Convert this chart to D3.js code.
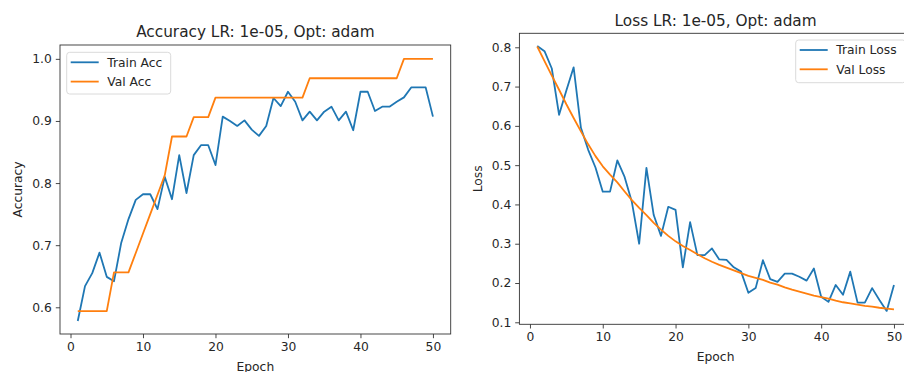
<!DOCTYPE html>
<html><head><meta charset="utf-8">
<script src="https://cdn.jsdelivr.net/npm/d3@7"></script>
<style>body{margin:0;background:#fff}svg{display:block;font-family:"DejaVu Sans",sans-serif}</style>
</head><body><svg id="c" width="904" height="372"></svg>
<script>
const epochs = d3.range(1, 51);
const trainAcc = [0.578,0.634,0.655,0.688,0.649,0.642,0.704,0.742,0.773,0.782,
  0.782,0.758,0.810,0.774,0.845,0.784,0.845,0.861,0.861,0.829,
  0.907,0.900,0.892,0.901,0.886,0.876,0.892,0.937,0.924,0.947,
  0.931,0.901,0.915,0.901,0.915,0.923,0.901,0.915,0.885,0.947,
  0.947,0.916,0.923,0.923,0.931,0.938,0.954,0.954,0.954,0.907];
const valAcc = [0.59375,0.59375,0.59375,0.59375,0.59375,0.65625,0.65625,0.65625,0.6875,0.71875,
  0.75,0.78125,0.8125,0.875,0.875,0.875,0.90625,0.90625,0.90625,0.9375,
  0.9375,0.9375,0.9375,0.9375,0.9375,0.9375,0.9375,0.9375,0.9375,0.9375,
  0.9375,0.9375,0.96875,0.96875,0.96875,0.96875,0.96875,0.96875,0.96875,0.96875,
  0.96875,0.96875,0.96875,0.96875,0.96875,1.0,1.0,1.0,1.0,1.0];
const trainLoss = [0.803,0.790,0.746,0.628,0.690,0.749,0.595,0.539,0.494,0.4325,
  0.4325,0.512,0.470,0.406,0.300,0.493,0.373,0.320,0.394,0.386,
  0.240,0.355,0.271,0.271,0.288,0.260,0.259,0.240,0.229,0.175,
  0.187,0.258,0.210,0.203,0.224,0.224,0.216,0.206,0.237,0.165,
  0.152,0.195,0.170,0.229,0.150,0.150,0.187,0.157,0.129,0.195];
const valLoss = [0.802,0.765,0.728,0.692,0.655,0.620,0.586,0.553,0.523,0.497,
  0.476,0.456,0.433,0.411,0.391,0.373,0.353,0.336,0.320,0.306,
  0.294,0.284,0.273,0.263,0.254,0.246,0.239,0.232,0.225,0.218,
  0.213,0.208,0.201,0.196,0.189,0.183,0.178,0.173,0.168,0.164,
  0.160,0.155,0.151,0.148,0.145,0.142,0.140,0.137,0.135,0.133];
const xTicks = [0,10,20,30,40,50];
const accTicks = [0.6,0.7,0.8,0.9,1.0];
const lossTicks = [0.1,0.2,0.3,0.4,0.5,0.6,0.7,0.8];

const svg = d3.select("#c");
const C1 = "#1f77b4", C2 = "#ff7f0e";
const FS = 12.3, TFS = 15.3;

function panel(o) {
  const g = svg.append("g");
  const x = d3.scaleLinear().domain([-1.45, 52.45]).range([o.left, o.right]);
  const y = d3.scaleLinear().domain(o.ydom).range([o.bottom, o.top]);
  const xa = g.append("g").attr("transform", `translate(0,${o.bottom})`)
    .call(d3.axisBottom(x).tickValues(xTicks).tickSize(4.2).tickPadding(4).tickFormat(d3.format("d")));
  const ya = g.append("g").attr("transform", `translate(${o.left},0)`)
    .call(d3.axisLeft(y).tickValues(o.yticks).tickSize(4.2).tickPadding(4).tickFormat(d3.format(".1f")));
  [xa, ya].forEach(a => {
    a.select(".domain").remove();
    a.selectAll("line").attr("stroke", "#333").attr("stroke-width", 0.9);
    a.selectAll("text").attr("font-size", FS).attr("fill", "#262626").attr("font-family", "DejaVu Sans");
  });
  const line = d3.line().x((d, i) => x(epochs[i])).y(d => y(d));
  g.append("path").datum(o.s1).attr("d", line).attr("fill", "none").attr("stroke", C1).attr("stroke-width", 1.8).attr("stroke-linejoin", "round");
  g.append("path").datum(o.s2).attr("d", line).attr("fill", "none").attr("stroke", C2).attr("stroke-width", 1.8).attr("stroke-linejoin", "round");
  g.append("rect").attr("x", o.left).attr("y", o.top).attr("width", o.right - o.left).attr("height", o.bottom - o.top)
    .attr("fill", "none").attr("stroke", "#333").attr("stroke-width", 0.9);
  g.append("text").attr("x", (o.left + o.right) / 2).attr("y", o.titleY).attr("text-anchor", "middle")
    .attr("font-size", TFS).attr("fill", "#262626").text(o.title);
  g.append("text").attr("x", (o.left + o.right) / 2).attr("y", o.bottom + 36.5).attr("text-anchor", "middle")
    .attr("font-size", FS).attr("fill", "#262626").text("Epoch");
  g.append("text").attr("transform", `translate(${o.ylabX},${(o.top + o.bottom) / 2}) rotate(-90)`).attr("text-anchor", "middle")
    .attr("font-size", FS).attr("fill", "#262626").text(o.ylab);
  const L = o.legend;
  const lg = g.append("g");
  lg.append("rect").attr("x", L.x).attr("y", L.y).attr("width", L.w).attr("height", L.h).attr("rx", 3)
    .attr("fill", "#fff").attr("fill-opacity", 0.8).attr("stroke", "#d6d6d6").attr("stroke-width", 0.9);
  [[o.n1, C1], [o.n2, C2]].forEach((it, i) => {
    const cy = L.y + 10 + i * 19.3;
    lg.append("line").attr("x1", L.x + 4).attr("x2", L.x + 32).attr("y1", cy).attr("y2", cy).attr("stroke", it[1]).attr("stroke-width", 1.8);
    lg.append("text").attr("x", L.x + 40.5).attr("y", cy).attr("dy", "0.36em").attr("font-size", FS).attr("fill", "#262626").text(it[0]);
  });
}

panel({left: 60, right: 450.7, top: 45, bottom: 334, ydom: [0.557, 1.0223], yticks: accTicks,
  s1: trainAcc, s2: valAcc, title: "Accuracy LR: 1e-05, Opt: adam", titleY: 37.3, ylab: "Accuracy", ylabX: 22,
  n1: "Train Acc", n2: "Val Acc", legend: {x: 66.7, y: 52.3, w: 104, h: 41.7}});
panel({left: 519.4, right: 911.8, top: 33.3, bottom: 324.3, ydom: [0.0949, 0.8356], yticks: lossTicks,
  s1: trainLoss, s2: valLoss, title: "Loss LR: 1e-05, Opt: adam", titleY: 26, ylab: "Loss", ylabX: 482,
  n1: "Train Loss", n2: "Val Loss", legend: {x: 795.7, y: 40, w: 110, h: 42.7}});
</script></body></html>
